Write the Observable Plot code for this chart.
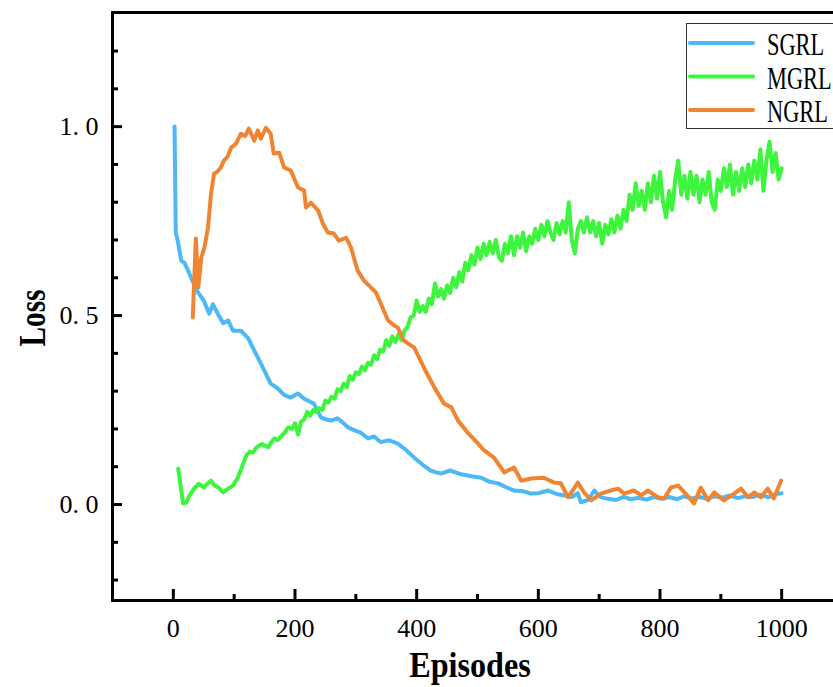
<!DOCTYPE html>
<html><head><meta charset="utf-8">
<script src="https://cdn.jsdelivr.net/npm/d3@7"></script>
<script src="https://cdn.jsdelivr.net/npm/@observablehq/plot@0.6"></script>
<style>
html,body{margin:0;padding:0;background:#fff;overflow:hidden}
#wrap{position:relative;width:833px;height:687px;overflow:hidden}
</style></head><body><div id="wrap"></div>
<script>
const seriesNames = ["SGRL", "MGRL", "NGRL"];
const seriesColors = ["#4cb8f6", "#3ef53e", "#ef8532"];
const xMajorTicks = [0, 200, 400, 600, 800, 1000];
const xMinorTicks = [100, 300, 500, 700, 900];
const yMajorTicks = [0, 0.5, 1.0];
const yMinorTicks = [-0.2, -0.1, 0.1, 0.2, 0.3, 0.4, 0.6, 0.7, 0.8, 0.9, 1.1, 1.2];
const xTitle = "Episodes";
const yTitle = "Loss";

const sgrlEp = [2,4,7,13,18,24,32,41,50,59, 65,73,82,90,98,111,123,133,144,160, 172,182,193,205,215,221,231,243,252,259, 270,280,287,300,308,320,330,341,355,369, 382,396,410,423,432,440,455,473,490,506, 520,534,548,560,575,588,600,616,630,642, 655,665,670,682,692,703,715,728,740,752, 765,778,790,803,815,828,840,852,865,878, 890,902,915,928,940,952,965,978,990,1000];
const sgrlLoss = [1.0,0.72,0.70,0.645,0.64,0.62,0.59,0.56,0.54,0.505, 0.53,0.505,0.48,0.487,0.46,0.46,0.44,0.407,0.373,0.32, 0.307,0.29,0.283,0.294,0.28,0.275,0.267,0.23,0.225,0.222, 0.228,0.215,0.204,0.195,0.19,0.175,0.18,0.165,0.17,0.161, 0.145,0.124,0.105,0.09,0.085,0.082,0.09,0.08,0.075,0.071, 0.06,0.056,0.045,0.037,0.035,0.029,0.03,0.037,0.028,0.024, 0.02,0.03,0.006,0.012,0.037,0.019,0.015,0.012,0.02,0.014, 0.018,0.013,0.02,0.015,0.02,0.014,0.022,0.016,0.02,0.015, 0.022,0.018,0.024,0.017,0.022,0.02,0.026,0.019,0.028,0.03];

const mgrlEp = [8,16,21,27,34,42,46,50,56,62,68,74,82,90,98,106,113,120,126,131,136,141,146,151,156,161,166,171,177,183,189,195,200,205,210].concat(d3.range(215, 1001, 5));
const mgrlLoss = [0.095,0.003,0.005,0.025,0.042,0.055,0.05,0.045,0.055,0.063,0.05,0.045,0.032,0.042,0.05,0.071,0.1,0.13,0.14,0.138,0.15,0.156,0.16,0.155,0.152,0.165,0.175,0.17,0.18,0.19,0.204,0.2,0.215,0.185,0.22,
 0.225,0.245,0.235,0.25,0.245,0.255,0.25,0.275,0.27,0.285,
 0.28,0.305,0.3,0.32,0.31,0.34,0.33,0.35,0.345,0.365,
 0.355,0.375,0.37,0.395,0.385,0.41,0.405,0.435,0.42,0.445,
 0.43,0.45,0.435,0.46,0.47,0.495,0.5,
 0.54,0.51,0.525,0.51,0.545,0.53,0.585,0.55,0.57,0.545,
 0.58,0.56,0.6,0.575,0.615,0.59,0.64,0.62,0.66,0.635,
 0.68,0.65,0.69,0.66,0.695,0.665,0.70,0.655,0.645,0.69,
 0.665,0.71,
 0.66,0.71,0.68,0.72,0.67,0.71,0.69,0.73,0.70,
 0.74,0.71,0.75,0.72,0.70,0.745,0.715,0.75,0.72,0.80,
 0.70,0.665,0.73,0.75,0.72,0.76,0.72,0.75,0.71,0.745,
 0.69,0.74,0.715,0.755,0.72,0.765,0.73,0.78,0.75,0.82,
 0.78,0.85,0.79,0.83,0.78,0.85,0.80,0.87,0.81,0.88,
 0.80,0.76,0.83,0.78,0.86,0.91,0.82,0.87,0.81,0.88,
 0.82,0.87,0.80,0.86,0.82,0.88,0.80,0.78,0.86,0.83,
 0.89,0.84,0.90,0.82,0.88,0.83,0.89,0.84,0.90,0.85,
 0.91,0.86,0.94,0.83,0.91,0.96,0.88,0.93,0.86,0.89];

const ngrlEp = [32,37,41,46,51,57,62,67,72,78, 83,89,95,103,111,118,124,133,139,144, 152,160,165,174,182,193,205,215,218,226, 238,246,254,264,272,284,292,303,313,325, 333,341,353,363,369,379,386,396,412,429, 445,457,468,485,501,511,527,544,560,572, 588,609,626,637,649,665,675,687,703,719, 731,741,757,769,780,797,807,818,830,840, 856,867,879,889,905,922,933,945,955,966, 977,987,999];
const ngrlLoss = [0.495,0.704,0.574,0.653,0.68,0.733,0.823,0.876,0.88,0.892, 0.91,0.92,0.944,0.955,0.981,0.975,0.995,0.963,0.99,0.968, 0.997,0.981,0.929,0.931,0.892,0.884,0.839,0.831,0.786,0.799, 0.778,0.743,0.72,0.717,0.698,0.706,0.68,0.619,0.593,0.574, 0.561,0.532,0.487,0.474,0.468,0.434,0.426,0.415,0.362,0.31, 0.267,0.257,0.222,0.188,0.161,0.143,0.124,0.085,0.098,0.063, 0.069,0.071,0.058,0.056,0.019,0.058,0.032,0.011,0.029,0.037, 0.042,0.029,0.037,0.024,0.037,0.019,0.016,0.045,0.05,0.032, 0.003,0.045,0.011,0.032,0.011,0.029,0.042,0.019,0.032,0.019, 0.042,0.016,0.063];

const rows = [];
[[sgrlEp, sgrlLoss, "SGRL"], [mgrlEp, mgrlLoss, "MGRL"], [ngrlEp, ngrlLoss, "NGRL"]].forEach(([eps, vals, name]) => {
  eps.forEach((e, i) => rows.push({episode: e, loss: vals[i], series: name}));
});

const serif = "'Liberation Serif', 'Times New Roman', serif";
const chart = Plot.plot({
  width: 833, height: 687,
  marginLeft: 112, marginRight: -9, marginTop: 12, marginBottom: 87,
  style: {fontFamily: serif, color: "#000", background: "#fff", overflow: "hidden"},
  x: {domain: [-100, 1100]},
  y: {domain: [-0.254, 1.302]},
  color: {domain: seriesNames, range: seriesColors},
  marks: [
    Plot.line(rows, {x: "episode", y: "loss", stroke: "series", strokeWidth: 4, strokeLinejoin: "round", strokeLinecap: "round"}),
    Plot.frame({stroke: "#000", strokeWidth: 3}),
    Plot.axisX(xMinorTicks, {tickSize: -6, strokeWidth: 3, fill: "none", label: null}),
    Plot.axisX(xMajorTicks, {tickSize: -11, tickPadding: 29, strokeWidth: 3, fontSize: 26, tickFormat: d => String(d), label: null}),
    Plot.axisY(yMinorTicks, {tickSize: -6, strokeWidth: 3, fill: "none", label: null}),
    Plot.axisY(yMajorTicks, {tickSize: -10, tickPadding: 24, strokeWidth: 3, fontSize: 26, tickFormat: d => d3.format(".1f")(d).replace(".", ". "), label: null})
  ]
});
const wrap = document.getElementById("wrap");
wrap.appendChild(chart);

// overlay: axis titles and legend
const lg = d3.select(wrap).append("svg")
  .attr("width", 833).attr("height", 687)
  .style("position", "absolute").style("left", "0px").style("top", "0px");
lg.append("text").text(xTitle)
  .attr("transform", "translate(470,677) scale(0.92,1)").attr("text-anchor", "middle")
  .attr("font-family", serif).attr("font-weight", "bold").attr("font-size", 35);
lg.append("text").text(yTitle)
  .attr("transform", "translate(45,318) rotate(-90) scale(0.77,1)").attr("text-anchor", "middle")
  .attr("font-family", serif).attr("font-weight", "bold").attr("font-size", 38);

lg.append("rect").attr("x", 686.5).attr("y", 23.5).attr("width", 170).attr("height", 105)
  .attr("fill", "#fff").attr("stroke", "#333").attr("stroke-width", 1);
seriesNames.forEach((name, i) => {
  const yy = 43 + i * 33.5;
  lg.append("line").attr("x1", 690).attr("x2", 753).attr("y1", yy).attr("y2", yy)
    .attr("stroke", seriesColors[i]).attr("stroke-width", 4).attr("stroke-linecap", "round");
  lg.append("text").text(name)
    .attr("transform", `translate(767,${yy + 12}) scale(0.7,1)`)
    .attr("font-family", serif).attr("font-size", 32).attr("fill", "#000");
});
</script></body></html>
